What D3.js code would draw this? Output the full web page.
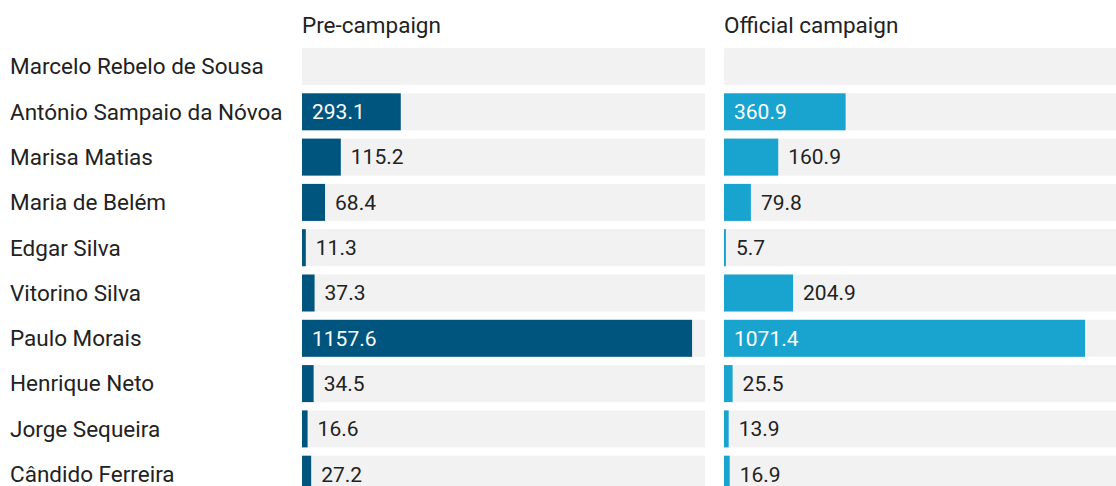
<!DOCTYPE html>
<meta charset="utf-8">
<script src="https://d3js.org/d3.v7.min.js"></script>
<style>
    body { margin: 0; background: #fff; }
    text { font-family: Roboto, sans-serif; }
</style>
<div id="chart"></div>
<script>

    // data
    const candidates = ["Marcelo Rebelo de Sousa", "António Sampaio da Nóvoa", "Marisa Matias", "Maria de Belém",
        "Edgar Silva", "Vitorino Silva", "Paulo Morais", "Henrique Neto", "Jorge Sequeira", "Cândido Ferreira"];
    const preCampaign = [null, 293.1, 115.2, 68.4, 11.3, 37.3, 1157.6, 34.5, 16.6, 27.2];
    const officialCampaign = [null, 360.9, 160.9, 79.8, 5.7, 204.9, 1071.4, 25.5, 13.9, 16.9];
    const panelTitles = ["Pre-campaign", "Official campaign"];

    const width = 1116, height = 486;
    const panelW = 403;
    const panelX = [302, 724];
    const colors = ["#00557f", "#19a3cf"];

    const svg = d3.select("#chart").append("svg")
        .attr("width", width)
        .attr("height", height);

    const y = d3.scaleBand()
        .domain(candidates)
        .range([48, 48 + 9 * 45.3 + 37])
        .paddingInner(0.183);

    const x = d3.scaleLinear()
        .domain([0, 1196])
        .range([0, panelW]);

    // row labels
    svg.selectAll(".name")
        .data(candidates)
        .join("text")
        .attr("class", "name")
        .attr("x", 10)
        .attr("y", d => y(d) + y.bandwidth() / 2)
        .attr("dy", "0.35em")
        .style("font-size", "22.5px")
        .style("fill", "#222")
        .text(d => d);

    [preCampaign, officialCampaign].forEach(function(values, i) {
        const g = svg.append("g").attr("transform", `translate(${panelX[i]},0)`);
        const rows = candidates.map((c, j) => ({name: c, value: values[j]}));

        g.append("text")
            .attr("x", 0)
            .attr("y", 25)
            .attr("dy", "0.35em")
            .style("font-size", "22.5px")
            .style("fill", "#222")
            .text(panelTitles[i]);

        // background
        g.selectAll(".bg")
            .data(rows)
            .join("rect")
            .attr("x", 0)
            .attr("y", d => y(d.name))
            .attr("width", panelW)
            .attr("height", y.bandwidth())
            .attr("fill", "#f2f2f2");

        const withValue = rows.filter(d => d.value != null);

        g.selectAll(".bar")
            .data(withValue)
            .join("rect")
            .attr("x", 0)
            .attr("y", d => y(d.name))
            .attr("width", d => x(d.value))
            .attr("height", y.bandwidth())
            .attr("fill", colors[i]);

        g.selectAll(".val")
            .data(withValue)
            .join("text")
            .attr("x", d => x(d.value) > 80 ? 10 : x(d.value) + 10)
            .attr("y", d => y(d.name) + y.bandwidth() / 2)
            .attr("dy", "0.35em")
            .style("font-size", "21px")
            .style("fill", d => x(d.value) > 80 ? "#fff" : "#222")
            .text(d => d3.format(".1f")(d.value));
    });
</script>
